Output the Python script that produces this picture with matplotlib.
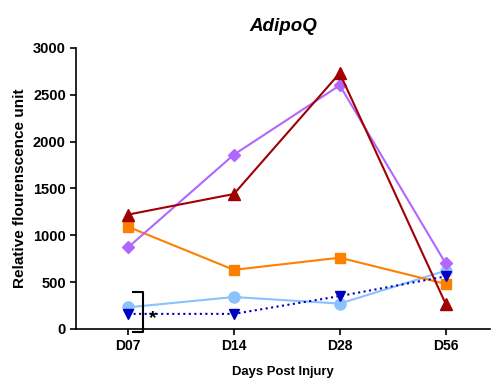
import matplotlib
matplotlib.use('Agg')
import matplotlib.pyplot as plt

plt.rcParams['font.family'] = ['Liberation Sans', 'DejaVu Sans']
plt.rcParams['font.weight'] = 'bold'

days = ['D07', 'D14', 'D28', 'D56']
red_tri = [1220, 1440, 2730, 270]
purple_dia = [870, 1860, 2600, 700]
orange_sq = [1090, 630, 760, 480]
lightblue_circ = [230, 340, 270, 620]
blue_vtri = [160, 160, 350, 560]

x = list(range(len(days)))

fig = plt.figure(figsize=(4.98, 3.86), dpi=100)
ax = fig.add_axes([0.153, 0.148, 0.831, 0.728])

ax.plot(x, lightblue_circ, '-o', color='#8CC1FF', lw=1.5, ms=8, zorder=3)
ax.plot(x, blue_vtri, ':v', color='#0000C0', lw=1.5, ms=7, zorder=4)
ax.plot(x, orange_sq, '-s', color='#FF8000', lw=1.5, ms=7, zorder=3)
ax.plot(x, purple_dia, '-D', color='#B266FF', lw=1.5, ms=6, zorder=3)
ax.plot(x, red_tri, '-^', color='#A00000', lw=1.5, ms=8, zorder=3)

# significance bracket at D07
ax.plot([0.05, 0.14, 0.14, 0.05], [395, 395, -32, -32], color='black', lw=1.5,
        clip_on=False, zorder=5)
ax.text(0.23, 115, '*', ha='center', va='center', fontsize=14,
        fontweight='bold', zorder=6)

ax.set_xlim(-0.49, 3.42)
ax.set_ylim(0, 3000)
ax.set_xticks(x)
ax.set_xticklabels(days, fontsize=10, fontweight='bold')
ax.set_yticks(range(0, 3001, 500))
ax.tick_params(axis='y', labelsize=10.5, width=1.2, length=4)
ax.tick_params(axis='x', width=1.2, length=4)
for lab in ax.get_yticklabels():
    lab.set_fontweight('bold')

ax.spines['top'].set_visible(False)
ax.spines['right'].set_visible(False)
ax.spines['left'].set_linewidth(1.2)
ax.spines['bottom'].set_linewidth(1.2)

ax.set_title('AdipoQ', fontsize=13.5, fontweight='bold', style='italic', pad=12)
ax.set_xlabel('Days Post Injury', fontsize=9.4, fontweight='bold', labelpad=9)
ax.set_ylabel('Relative flourenscence unit', fontsize=11, fontweight='bold')

fig.savefig('out.png', dpi=100)
